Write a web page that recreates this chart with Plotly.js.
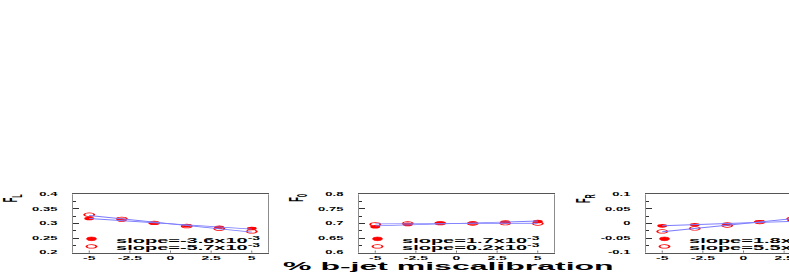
<!DOCTYPE html>
<html>
<head>
<meta charset="utf-8">
<script src="https://cdn.plot.ly/plotly-3.0.1.min.js"></script>
<style>
html, body { margin: 0; padding: 0; overflow: hidden; background: #ffffff; width: 789px; height: 273px; }
#plot { width: 860px; height: 764px; transform: scaleY(0.357330); transform-origin: 0 0; }
</style>
</head>
<body>
<div id="plot"></div>
<script>
// ---- data ----
const miscalibration = [-5, -3, -1, 1, 3, 5];

const fLFilled = [0.317, 0.312, 0.302, 0.293, 0.287, 0.283];
const fLOpen   = [0.330, 0.316, 0.302, 0.291, 0.282, 0.273];

const f0Filled = [0.689, 0.697, 0.701, 0.702, 0.705, 0.707];
const f0Open   = [0.697, 0.700, 0.701, 0.700, 0.701, 0.700];

const fRFilled = [-0.008, -0.004, -0.002, 0.006, 0.012, 0.007];
const fROpen   = [-0.027, -0.017, -0.007, 0.005, 0.016, 0.029];

const panelTitles = ['F<sub>L</sub>', 'F<sub>0</sub>', 'F<sub>R</sub>'];
const slopeFilledLabels = ['slope=-3.6x10<sup>-3</sup>', 'slope=1.7x10<sup>-3</sup>', 'slope=1.8x10<sup>-3</sup>'];
const slopeOpenLabels   = ['slope=-5.7x10<sup>-3</sup>', 'slope=0.2x10<sup>-3</sup>', 'slope=5.5x10<sup>-3</sup>'];

const xTickVals = [-5, -2.5, 0, 2.5, 5];
const xTickText = ['-5', '-2.5', '0', '2.5', '5'];
const yRanges = [[0.2, 0.4], [0.6, 0.8], [-0.1, 0.1]];
const yTickVals = [
  [0.2, 0.25, 0.3, 0.35, 0.4],
  [0.6, 0.65, 0.7, 0.75, 0.8],
  [-0.1, -0.05, 0, 0.05, 0.1]
];
const yTickText = [
  ['0.2', '0.25', '0.3', '0.35', '0.4'],
  ['0.6', '0.65', '0.7', '0.75', '0.8'],
  ['-0.1', '-0.05', '0', '0.05', '0.1']
];
const xAxisTitle = '% b-jet miscalibration';
const xRange = [-6, 6];

// ---- styling / layout ----
const W = 860, H = 764;
const FONT = 'Liberation Sans, Arial, Helvetica, sans-serif';
const RED = '#ff0000';
const BLUE = 'rgb(125,125,255)';
const xDomains = [[73 / W, 268 / W], [359 / W, 554 / W], [646 / W, 841 / W]];
const yDomain = [0.07435, 0.28822];

function linearFit(x, y) {
  const n = x.length;
  const mx = x.reduce((a, b) => a + b, 0) / n;
  const my = y.reduce((a, b) => a + b, 0) / n;
  let sxy = 0, sxx = 0;
  for (let i = 0; i < n; i++) { sxy += (x[i] - mx) * (y[i] - my); sxx += (x[i] - mx) * (x[i] - mx); }
  const b = sxy / sxx, a = my - b * mx;
  return x.map(v => a + b * v);
}

const series = [[fLFilled, fLOpen], [f0Filled, f0Open], [fRFilled, fROpen]];
const traces = [];
const annotations = [];
const shapes = [];
const layout = {
  width: W, height: H,
  margin: { l: 0, r: 0, t: 0, b: 0, pad: 0 },
  paper_bgcolor: '#ffffff', plot_bgcolor: '#ffffff',
  showlegend: false,
  font: { family: FONT, color: '#000000' }
};

series.forEach((pair, i) => {
  const sfx = i === 0 ? '' : String(i + 1);
  const xa = 'x' + sfx, ya = 'y' + sfx;
  traces.push({
    x: miscalibration, y: pair[0], xaxis: xa, yaxis: ya, type: 'scatter', mode: 'markers',
    marker: { symbol: 'circle', size: 10, color: RED, line: { width: 0 } }
  });
  traces.push({
    x: miscalibration, y: pair[1], xaxis: xa, yaxis: ya, type: 'scatter', mode: 'markers',
    marker: { symbol: 'circle-open', size: 10, color: RED, line: { width: 2, color: RED } }
  });
  traces.push({
    x: miscalibration, y: linearFit(miscalibration, pair[0]), xaxis: xa, yaxis: ya,
    type: 'scatter', mode: 'lines', line: { color: BLUE, width: 2.5 }, hoverinfo: 'skip'
  });
  traces.push({
    x: miscalibration, y: linearFit(miscalibration, pair[1]), xaxis: xa, yaxis: ya,
    type: 'scatter', mode: 'lines', line: { color: BLUE, width: 2.5 }, hoverinfo: 'skip'
  });

  layout['xaxis' + sfx] = {
    domain: xDomains[i], anchor: ya, range: xRange,
    tickmode: 'array', tickvals: xTickVals, ticktext: xTickText,
    ticks: 'inside', ticklen: 6, tickwidth: 1, tickcolor: '#333333',
    showline: true, mirror: true, linecolor: '#555555', linewidth: 2.8,
    showgrid: false, zeroline: false,
    tickfont: { family: FONT, size: 14, weight: 'bold', color: '#000000' },
    ticklabelstandoff: 0
  };
  layout['yaxis' + sfx] = {
    domain: yDomain, anchor: xa, range: yRanges[i],
    tickmode: 'array', tickvals: yTickVals[i], ticktext: yTickText[i],
    ticks: 'inside', ticklen: 6, tickwidth: 2.8, tickcolor: '#333333',
    minor: { ticks: 'inside', ticklen: 3, tickwidth: 2.8, tickcolor: '#333333', dtick: 0.025, tick0: 0 },
    showline: true, mirror: true, linecolor: '#555555', linewidth: 1,
    showgrid: false, zeroline: false,
    tickfont: { family: FONT, size: 13, weight: 'bold', color: '#000000' },
    ticklabelstandoff: 12
  };

  // y title (rotated, at top of axis)
  annotations.push({
    text: panelTitles[i], textangle: -90, showarrow: false,
    xref: xa + ' domain', yref: ya + ' domain', x: 0, y: 1,
    xanchor: 'left', yanchor: 'top', xshift: -77, yshift: 2,
    font: { family: FONT, size: 21, weight: 'bold', color: '#000000' }
  });
  // legend texts
  [slopeFilledLabels[i], slopeOpenLabels[i]].forEach((t, k) => {
    annotations.push({
      text: t, showarrow: false,
      xref: xa + ' domain', yref: ya + ' domain', x: 40.5 / 195, y: k === 0 ? 0.225 : 0.102,
      xanchor: 'left', yanchor: 'middle', yshift: 0,
      font: { family: FONT, size: 20, weight: 'bold', color: '#000000' }
    });
  });
  // legend symbols
  const yr = yRanges[i];
  const xm = xRange[0] + (18.5 / 195) * (xRange[1] - xRange[0]);
  [0.237, 0.108].forEach((f, k) => {
    shapes.push({
      type: 'circle', xref: xa, yref: ya,
      xsizemode: 'pixel', ysizemode: 'pixel',
      xanchor: xm, yanchor: yr[0] + f * (yr[1] - yr[0]),
      x0: -5, x1: 5, y0: -5, y1: 5,
      fillcolor: k === 0 ? RED : 'rgba(0,0,0,0)',
      line: { color: RED, width: k === 0 ? 1 : 2 }
    });
  });
});

annotations.push({
  text: xAxisTitle, showarrow: false, xref: 'paper', yref: 'paper',
  x: 448.4 / W, y: 1 - 726 / H, xanchor: 'center', yanchor: 'top',
  font: { family: FONT, size: 32, weight: 'bold', color: '#000000' }
});

layout.annotations = annotations;
layout.shapes = shapes;

Plotly.newPlot('plot', traces, layout, { staticPlot: true, displayModeBar: false });
</script>
</body>
</html>
